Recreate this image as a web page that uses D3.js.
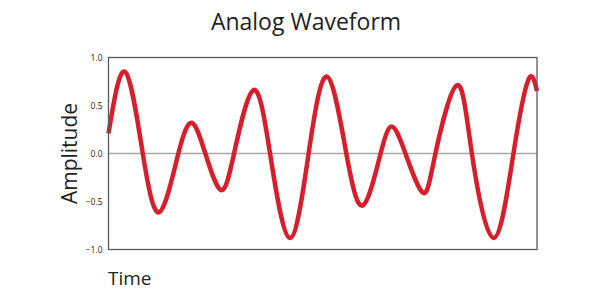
<!DOCTYPE html>
<html>
<head>
<meta charset="utf-8">
<style>
  body { margin: 0; background: #fff; }
  svg text { font-family: "Open Sans", "Noto Sans", sans-serif; fill: #231f20; }
</style>
<script src="https://d3js.org/d3.v7.min.js"></script>
</head>
<body>
<svg width="600" height="299"></svg>
<script>
// time (0-100) and amplitude
var times = [0, 3.9, 8.0, 11.9, 16.3, 19.5, 22.6, 26.2, 29.3, 33.8, 37.7, 42.3, 46.7, 51.0,
  55.5, 59.4, 63.5, 66.2, 69.3, 73.4, 76.3, 81.3, 84.8, 89.9, 94.5, 98.0, 100];
var amps = [0.21, 0.85, 0, -0.61, 0, 0.32, 0, -0.38, 0, 0.66, 0, -0.88, 0, 0.80,
  0, -0.54, 0, 0.28, 0, -0.41, 0, 0.71, 0, -0.88, 0, 0.77, 0.65];
var yTicks = [1.0, 0.5, 0.0, -0.5, -1.0];

var svg = d3.select("svg"),
    margin = {top: 57.5, right: 63, bottom: 49.5, left: 108.5},
    width = 600 - margin.left - margin.right,
    height = 299 - margin.top - margin.bottom,
    g = svg.append("g").attr("transform", "translate(" + margin.left + "," + margin.top + ")");

var x = d3.scaleLinear().domain([0, 100]).range([0, width]);
var y = d3.scaleLinear().domain([-1, 1]).range([height, 0]);

var data = times.map(function(t, i) { return {t: t, a: amps[i]}; });

// y axis labels, no tick marks
var ya = g.append("g")
    .call(d3.axisLeft(y).tickValues(yTicks).tickFormat(d3.format(".1f")).tickSize(0).tickPadding(6));
ya.select(".domain").remove();
ya.selectAll("text")
    .style("font-size", "8.5px")
    .style("font-family", "'Open Sans', sans-serif")
    .attr("fill", "#231f20");

// zero line
g.append("line")
    .attr("x1", 0).attr("x2", width)
    .attr("y1", y(0)).attr("y2", y(0))
    .attr("stroke", "#a7a9ac")
    .attr("stroke-width", 1.3);

var line = d3.line()
    .x(function(d) { return x(d.t); })
    .y(function(d) { return y(d.a); })
    .curve(d3.curveNatural);

g.append("path")
    .datum(data)
    .attr("fill", "none")
    .attr("stroke", "#d71f2b")
    .attr("stroke-width", 4.5)
    .attr("stroke-linejoin", "round")
    .attr("d", line);

// frame
g.append("rect")
    .attr("width", width).attr("height", height)
    .attr("fill", "none")
    .attr("stroke", "#58595b")
    .attr("stroke-width", 1.3);

svg.append("text")
    .attr("x", 306).attr("y", 29.5)
    .attr("text-anchor", "middle")
    .style("font-size", "23px")
    .text("Analog Waveform");

svg.append("text")
    .attr("transform", "translate(77," + (margin.top + height / 2) + ") rotate(-90)")
    .attr("text-anchor", "middle")
    .style("font-size", "21px")
    .text("Amplitude");

svg.append("text")
    .attr("x", 108).attr("y", 285)
    .style("font-size", "19px")
    .text("Time");
</script>
</body>
</html>
